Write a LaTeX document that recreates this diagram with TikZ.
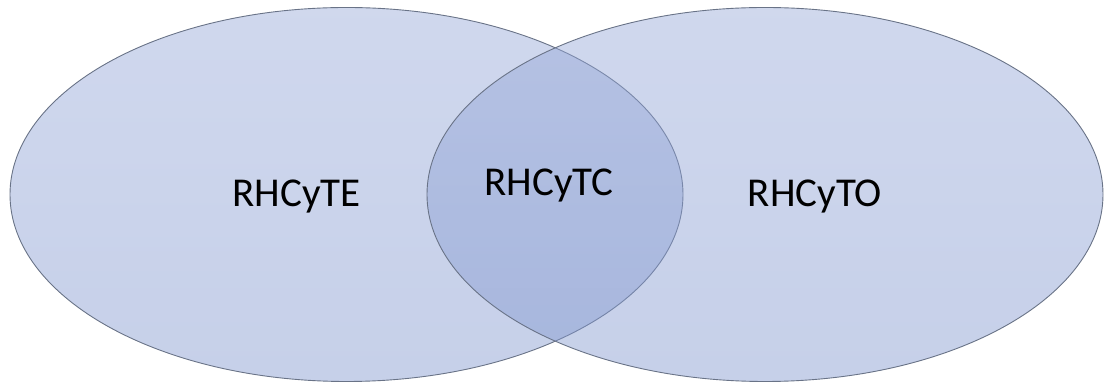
\documentclass[tikz,border=0pt]{standalone}
\usepackage{fontspec}
\setmainfont{Carlito}
\usepackage{tikz}
\usetikzlibrary{shapes.geometric}

\definecolor{setfill}{RGB}{138,158,209}
\definecolor{settop}{RGB}{150,168,216}
\definecolor{setbottom}{RGB}{128,150,206}
\definecolor{setline}{RGB}{105,115,135}

\begin{document}
\begin{tikzpicture}[x=1pt,y=1pt,font=\fontsize{41}{49}\selectfont]
  \tikzstyle{set}=[ellipse,draw=setline,line width=0.9pt,inner sep=0pt,
                   top color=settop,bottom color=setbottom,fill opacity=0.45,
                   minimum height=374pt]
  \tikzstyle{settext}=[anchor=base,inner sep=0pt]

  \useasboundingbox (0,0) rectangle (1104,385);

  \node[set,minimum width=673pt] (E) at (346.5,190.5) {};
  \node[set,minimum width=676pt] (O) at (765,190.5)   {};

  \node[settext] (TE) at (296.5,178) {RHCyTE};
  \node[settext] (TC) at (549,189)   {RHCyTC};
  \node[settext] (TO) at (815,178)   {RHCyTO};
\end{tikzpicture}
\end{document}
